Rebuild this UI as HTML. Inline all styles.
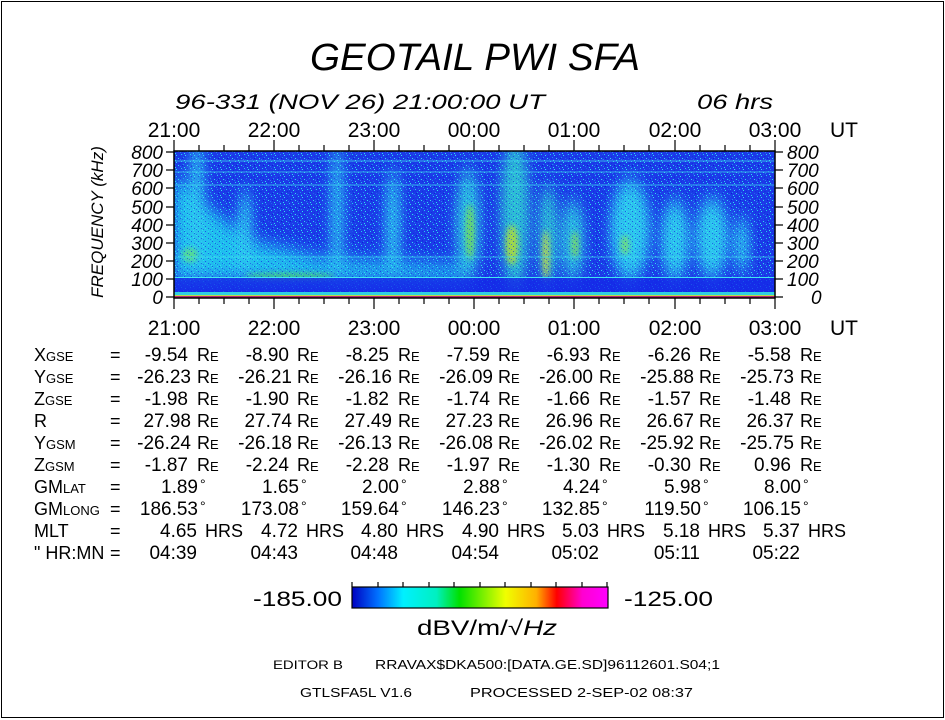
<!DOCTYPE html>
<html><head><meta charset="utf-8"><style>
html,body{margin:0;padding:0;background:#fff}
svg{display:block}
text{font-family:"Liberation Sans",sans-serif;fill:#000}
.it{font-style:italic}
</style></head><body>
<svg width="945" height="720" viewBox="0 0 945 720" xmlns="http://www.w3.org/2000/svg">
<defs>
<pattern id="spk" width="9" height="7" patternUnits="userSpaceOnUse">
<rect width="9" height="7" fill="#1c3ae8"/>
<rect x="1" y="0" width="1" height="1" fill="#22c8f0"/><rect x="5" y="1" width="1" height="1" fill="#30e0f0"/>
<rect x="3" y="3" width="1" height="1" fill="#1a90f0"/><rect x="7" y="4" width="1" height="1" fill="#30d8f0"/>
<rect x="0" y="5" width="1" height="1" fill="#2080f0"/><rect x="4" y="6" width="1" height="1" fill="#28e0f0"/>
<rect x="8" y="2" width="1" height="1" fill="#1030e0"/><rect x="2" y="4" width="1" height="1" fill="#0a20d8"/>
</pattern>
<pattern id="spk2" width="7" height="5" patternUnits="userSpaceOnUse">
<rect x="2" y="1" width="1" height="1" fill="#1030e0"/><rect x="5" y="3" width="1" height="1" fill="#1838e8"/>
<rect x="0" y="4" width="1" height="1" fill="#2060f0"/>
</pattern>
<filter id="bl" x="-100%" y="-50%" width="300%" height="200%"><feGaussianBlur stdDeviation="6 9"/></filter>
<filter id="bl2" x="-100%" y="-100%" width="300%" height="300%"><feGaussianBlur stdDeviation="3"/></filter>
<clipPath id="pc"><rect x="174" y="151" width="601" height="147"/></clipPath>
<linearGradient id="cb" x1="0" x2="1">
<stop offset="0" stop-color="#0000c0"/><stop offset="0.1" stop-color="#0070ff"/><stop offset="0.2" stop-color="#00f0ff"/>
<stop offset="0.33" stop-color="#00f0c0"/><stop offset="0.42" stop-color="#00e000"/><stop offset="0.6" stop-color="#f0ff00"/>
<stop offset="0.72" stop-color="#ffb000"/><stop offset="0.8" stop-color="#ff0000"/><stop offset="0.9" stop-color="#ff00d0"/><stop offset="1" stop-color="#ff00ff"/>
</linearGradient>
</defs>
<rect x="1.5" y="1.5" width="942" height="716" fill="none" stroke="#000"/>

<text x="310" y="70" font-size="38" class="it" textLength="330" lengthAdjust="spacingAndGlyphs">GEOTAIL  PWI  SFA</text>
<text x="175" y="109" font-size="21" class="it" textLength="370" lengthAdjust="spacingAndGlyphs">96-331 (NOV 26) 21:00:00 UT</text>
<text x="697" y="109" font-size="21" class="it" textLength="76" lengthAdjust="spacingAndGlyphs">06 hrs</text>

<!-- spectrogram -->
<g clip-path="url(#pc)">
<rect x="174" y="151" width="601" height="147" fill="url(#spk)"/>
<g filter="url(#bl)" opacity="0.8">
<polygon points="174,175 200,200 250,240 320,258 470,266 470,280 174,280" fill="#20e0f0"/>
<ellipse cx="197" cy="210" rx="7" ry="70" fill="#30e8f0"/>
<ellipse cx="245" cy="235" rx="7" ry="45" fill="#30e8f0"/>
<ellipse cx="337" cy="215" rx="6" ry="70" fill="#30e8f0"/>
<ellipse cx="393" cy="225" rx="7" ry="55" fill="#30e8f0"/>
<ellipse cx="468" cy="225" rx="12" ry="55" fill="#30e0e0"/>
<ellipse cx="515" cy="215" rx="14" ry="75" fill="#30e0d0"/>
<ellipse cx="548" cy="235" rx="9" ry="50" fill="#30e0d0"/>
<ellipse cx="573" cy="240" rx="11" ry="40" fill="#30e0e0"/>
<ellipse cx="630" cy="230" rx="20" ry="50" fill="#30e8f0"/>
<ellipse cx="675" cy="240" rx="14" ry="40" fill="#30e8f0"/>
<ellipse cx="712" cy="238" rx="16" ry="40" fill="#30e8f0"/>
<ellipse cx="742" cy="245" rx="7" ry="28" fill="#30e8f0"/>
</g>
<g filter="url(#bl2)" opacity="0.8">
<ellipse cx="290" cy="276" rx="45" ry="3" fill="#50e060"/>
<ellipse cx="190" cy="255" rx="8" ry="7" fill="#60e080"/>
<ellipse cx="470" cy="232" rx="4" ry="28" fill="#80e040"/>
<ellipse cx="512" cy="245" rx="6" ry="20" fill="#c0e020"/>
<ellipse cx="546" cy="255" rx="3" ry="25" fill="#e0e020"/>
<ellipse cx="575" cy="245" rx="3" ry="14" fill="#90e040"/>
<ellipse cx="625" cy="245" rx="4" ry="10" fill="#80e060"/>
</g>
<rect x="174" y="151" width="601" height="147" fill="url(#spk2)" opacity="0.7"/>
<rect x="174" y="278" width="601" height="14" fill="#1428e8" opacity="0.75"/>
<rect x="174" y="277" width="601" height="1" fill="#40e8f0"/>
<g stroke="#40e0f0" stroke-width="1" opacity="0.7">
<line x1="174" y1="161" x2="775" y2="161"/><line x1="174" y1="172" x2="775" y2="172"/>
<line x1="174" y1="185" x2="775" y2="185"/><line x1="174" y1="257" x2="775" y2="257"/>
</g>
<rect x="174" y="292" width="601" height="4" fill="#30d0e0"/>
<rect x="174" y="295" width="601" height="1" fill="#e0e020" opacity="0.8"/>
<rect x="174" y="296" width="601" height="2" fill="#e02050" opacity="0.8"/>
</g>
<rect x="174" y="151" width="601" height="147" fill="none" stroke="#000" stroke-width="1.5"/>

<!-- ticks -->
<g stroke="#000" stroke-width="1.2">
<path d="M174 151v-11M274 151v-11M374 151v-11M474 151v-11M574 151v-11M675 151v-11M775 151v-11
M199 151v-6M224 151v-6M249 151v-6M299 151v-6M324 151v-6M349 151v-6M399 151v-6M424 151v-6M449 151v-6M499 151v-6M524 151v-6M549 151v-6M599 151v-6M624 151v-6M649 151v-6M700 151v-6M725 151v-6M750 151v-6
M174 298v11M274 298v11M374 298v11M474 298v11M574 298v11M675 298v11M775 298v11
M199 298v6M224 298v6M249 298v6M299 298v6M324 298v6M349 298v6M399 298v6M424 298v6M449 298v6M499 298v6M524 298v6M549 298v6M599 298v6M624 298v6M649 298v6M700 298v6M725 298v6M750 298v6
M166 152h8M166 170h8M166 188h8M166 207h8M166 225h8M166 243h8M166 261h8M166 279h8M166 297h8
M775 152h8M775 170h8M775 188h8M775 207h8M775 225h8M775 243h8M775 261h8M775 279h8M775 297h8"/>
</g>
<g font-size="21" text-anchor="middle">
<text x="174" y="137">21:00</text><text x="274" y="137">22:00</text><text x="374" y="137">23:00</text><text x="474" y="137">00:00</text><text x="574" y="137">01:00</text><text x="675" y="137">02:00</text><text x="775" y="137">03:00</text>
<text x="174" y="335">21:00</text><text x="274" y="335">22:00</text><text x="374" y="335">23:00</text><text x="474" y="335">00:00</text><text x="574" y="335">01:00</text><text x="675" y="335">02:00</text><text x="775" y="335">03:00</text>
</g>
<text x="830" y="137" font-size="21">UT</text><text x="830" y="335" font-size="21">UT</text>
<g font-size="19" class="it" text-anchor="end">
<text x="163" y="159">800</text><text x="163" y="177">700</text><text x="163" y="195">600</text><text x="163" y="214">500</text><text x="163" y="232">400</text><text x="163" y="250">300</text><text x="163" y="268">200</text><text x="163" y="286">100</text><text x="163" y="304">0</text>
</g>
<g font-size="19" class="it">
<text x="787" y="159">800</text><text x="787" y="177">700</text><text x="787" y="195">600</text><text x="787" y="214">500</text><text x="787" y="232">400</text><text x="787" y="250">300</text><text x="787" y="268">200</text><text x="787" y="286">100</text><text x="811" y="304">0</text>
</g>
<text transform="translate(103,222) rotate(-90)" font-size="17" class="it" text-anchor="middle">FREQUENCY (kHz)</text>

<!-- data table -->
<g font-size="18">
<text x="34" y="361">X<tspan font-size="13">GSE</tspan></text>
<text x="34" y="383">Y<tspan font-size="13">GSE</tspan></text>
<text x="34" y="405">Z<tspan font-size="13">GSE</tspan></text>
<text x="34" y="427">R</text>
<text x="34" y="449">Y<tspan font-size="13">GSM</tspan></text>
<text x="34" y="471">Z<tspan font-size="13">GSM</tspan></text>
<text x="34" y="493">GM<tspan font-size="13">LAT</tspan></text>
<text x="34" y="515">GM<tspan font-size="13">LONG</tspan></text>
<text x="34" y="537">MLT</text>
<text x="34" y="559">" HR:MN</text>
<text x="110" y="361">=</text><text x="110" y="383">=</text><text x="110" y="405">=</text><text x="110" y="427">=</text><text x="110" y="449">=</text><text x="110" y="471">=</text><text x="110" y="493">=</text><text x="110" y="515">=</text><text x="110" y="537">=</text><text x="110" y="559">=</text>
</g>
<g font-size="19" text-anchor="end">
<text y="361"><tspan x="188">-9.54</tspan><tspan x="289">-8.90</tspan><tspan x="389">-8.25</tspan><tspan x="490">-7.59</tspan><tspan x="590">-6.93</tspan><tspan x="691">-6.26</tspan><tspan x="791">-5.58</tspan></text>
<text y="383"><tspan x="191">-26.23</tspan><tspan x="292">-26.21</tspan><tspan x="392">-26.16</tspan><tspan x="493">-26.09</tspan><tspan x="593">-26.00</tspan><tspan x="694">-25.88</tspan><tspan x="794">-25.73</tspan></text>
<text y="405"><tspan x="188">-1.98</tspan><tspan x="289">-1.90</tspan><tspan x="389">-1.82</tspan><tspan x="490">-1.74</tspan><tspan x="590">-1.66</tspan><tspan x="691">-1.57</tspan><tspan x="791">-1.48</tspan></text>
<text y="427"><tspan x="191">27.98</tspan><tspan x="292">27.74</tspan><tspan x="392">27.49</tspan><tspan x="493">27.23</tspan><tspan x="593">26.96</tspan><tspan x="694">26.67</tspan><tspan x="794">26.37</tspan></text>
<text y="449"><tspan x="191">-26.24</tspan><tspan x="292">-26.18</tspan><tspan x="392">-26.13</tspan><tspan x="493">-26.08</tspan><tspan x="593">-26.02</tspan><tspan x="694">-25.92</tspan><tspan x="794">-25.75</tspan></text>
<text y="471"><tspan x="188">-1.87</tspan><tspan x="289">-2.24</tspan><tspan x="389">-2.28</tspan><tspan x="490">-1.97</tspan><tspan x="590">-1.30</tspan><tspan x="691">-0.30</tspan><tspan x="791">0.96</tspan></text>
<text y="493"><tspan x="198">1.89</tspan><tspan x="299">1.65</tspan><tspan x="399">2.00</tspan><tspan x="500">2.88</tspan><tspan x="600">4.24</tspan><tspan x="701">5.98</tspan><tspan x="801">8.00</tspan></text>
<text y="515"><tspan x="198">186.53</tspan><tspan x="299">173.08</tspan><tspan x="399">159.64</tspan><tspan x="500">146.23</tspan><tspan x="600">132.85</tspan><tspan x="701">119.50</tspan><tspan x="801">106.15</tspan></text>
<text y="537"><tspan x="197">4.65</tspan><tspan x="298">4.72</tspan><tspan x="398">4.80</tspan><tspan x="499">4.90</tspan><tspan x="599">5.03</tspan><tspan x="700">5.18</tspan><tspan x="800">5.37</tspan></text>
<text y="559"><tspan x="197">04:39</tspan><tspan x="298">04:43</tspan><tspan x="398">04:48</tspan><tspan x="499">04:54</tspan><tspan x="599">05:02</tspan><tspan x="700">05:11</tspan><tspan x="800">05:22</tspan></text>
</g>
<g font-size="18">
<text y="361"><tspan x="197">R<tspan font-size="13">E</tspan></tspan><tspan x="297">R<tspan font-size="13">E</tspan></tspan><tspan x="398">R<tspan font-size="13">E</tspan></tspan><tspan x="498">R<tspan font-size="13">E</tspan></tspan><tspan x="599">R<tspan font-size="13">E</tspan></tspan><tspan x="699">R<tspan font-size="13">E</tspan></tspan><tspan x="800">R<tspan font-size="13">E</tspan></tspan></text>
<text y="383"><tspan x="197">R<tspan font-size="13">E</tspan></tspan><tspan x="297">R<tspan font-size="13">E</tspan></tspan><tspan x="398">R<tspan font-size="13">E</tspan></tspan><tspan x="498">R<tspan font-size="13">E</tspan></tspan><tspan x="599">R<tspan font-size="13">E</tspan></tspan><tspan x="699">R<tspan font-size="13">E</tspan></tspan><tspan x="800">R<tspan font-size="13">E</tspan></tspan></text>
<text y="405"><tspan x="197">R<tspan font-size="13">E</tspan></tspan><tspan x="297">R<tspan font-size="13">E</tspan></tspan><tspan x="398">R<tspan font-size="13">E</tspan></tspan><tspan x="498">R<tspan font-size="13">E</tspan></tspan><tspan x="599">R<tspan font-size="13">E</tspan></tspan><tspan x="699">R<tspan font-size="13">E</tspan></tspan><tspan x="800">R<tspan font-size="13">E</tspan></tspan></text>
<text y="427"><tspan x="197">R<tspan font-size="13">E</tspan></tspan><tspan x="297">R<tspan font-size="13">E</tspan></tspan><tspan x="398">R<tspan font-size="13">E</tspan></tspan><tspan x="498">R<tspan font-size="13">E</tspan></tspan><tspan x="599">R<tspan font-size="13">E</tspan></tspan><tspan x="699">R<tspan font-size="13">E</tspan></tspan><tspan x="800">R<tspan font-size="13">E</tspan></tspan></text>
<text y="449"><tspan x="197">R<tspan font-size="13">E</tspan></tspan><tspan x="297">R<tspan font-size="13">E</tspan></tspan><tspan x="398">R<tspan font-size="13">E</tspan></tspan><tspan x="498">R<tspan font-size="13">E</tspan></tspan><tspan x="599">R<tspan font-size="13">E</tspan></tspan><tspan x="699">R<tspan font-size="13">E</tspan></tspan><tspan x="800">R<tspan font-size="13">E</tspan></tspan></text>
<text y="471"><tspan x="197">R<tspan font-size="13">E</tspan></tspan><tspan x="297">R<tspan font-size="13">E</tspan></tspan><tspan x="398">R<tspan font-size="13">E</tspan></tspan><tspan x="498">R<tspan font-size="13">E</tspan></tspan><tspan x="599">R<tspan font-size="13">E</tspan></tspan><tspan x="699">R<tspan font-size="13">E</tspan></tspan><tspan x="800">R<tspan font-size="13">E</tspan></tspan></text>
<text y="489" font-size="14"><tspan x="200">°</tspan><tspan x="301">°</tspan><tspan x="401">°</tspan><tspan x="502">°</tspan><tspan x="602">°</tspan><tspan x="703">°</tspan><tspan x="803">°</tspan></text>
<text y="511" font-size="14"><tspan x="200">°</tspan><tspan x="301">°</tspan><tspan x="401">°</tspan><tspan x="502">°</tspan><tspan x="602">°</tspan><tspan x="703">°</tspan><tspan x="803">°</tspan></text>
<text y="537"><tspan x="205">HRS</tspan><tspan x="306">HRS</tspan><tspan x="406">HRS</tspan><tspan x="507">HRS</tspan><tspan x="607">HRS</tspan><tspan x="708">HRS</tspan><tspan x="808">HRS</tspan></text>
</g>

<!-- colorbar -->
<g stroke="#000" stroke-width="1.2">
<path d="M352 587v-5M378 587v-5M403 587v-5M429 587v-5M454 587v-5M480 587v-5M505 587v-5M531 587v-5M556 587v-5M582 587v-5M607 587v-5"/>
</g>
<rect x="352" y="587" width="256" height="21" fill="url(#cb)" stroke="#000" stroke-width="1.2"/>
<text x="253" y="606" font-size="21" textLength="89" lengthAdjust="spacingAndGlyphs">-185.00</text>
<text x="624" y="606" font-size="21" textLength="89" lengthAdjust="spacingAndGlyphs">-125.00</text>
<text x="417" y="635" font-size="21" textLength="140" lengthAdjust="spacingAndGlyphs">dBV/m/√<tspan class="it">Hz</tspan></text>
<text x="273" y="669" font-size="12" textLength="70" lengthAdjust="spacingAndGlyphs">EDITOR  B</text>
<text x="375" y="669" font-size="13" textLength="345" lengthAdjust="spacingAndGlyphs">RRAVAX$DKA500:[DATA.GE.SD]96112601.S04;1</text>
<text x="300" y="697" font-size="13" textLength="112" lengthAdjust="spacingAndGlyphs">GTLSFA5L V1.6</text>
<text x="470" y="697" font-size="13" textLength="223" lengthAdjust="spacingAndGlyphs">PROCESSED  2-SEP-02  08:37</text>
</svg>
</body></html>
